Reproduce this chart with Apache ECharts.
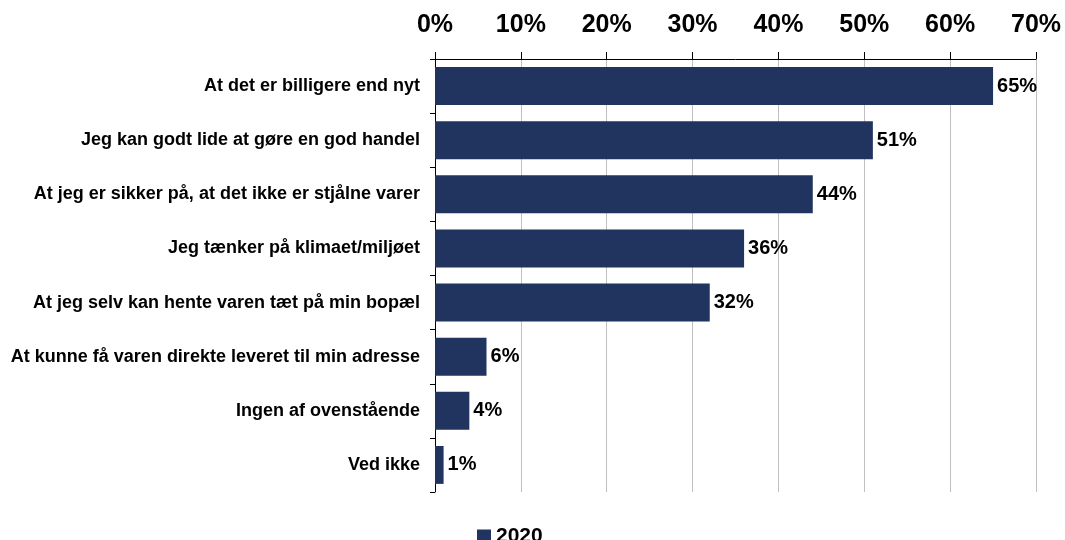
<!DOCTYPE html>
<html>
<head>
<meta charset="utf-8">
<script src="https://cdn.jsdelivr.net/npm/echarts@6/dist/echarts.min.js"></script>
<style>html,body{margin:0;padding:0;background:#fff;}#c{width:1065px;height:540px;}</style>
</head>
<body>
<div id="c"></div>
<script>
var categories = [
  "At det er billigere end nyt",
  "Jeg kan godt lide at gøre en god handel",
  "At jeg er sikker på, at det ikke er stjålne varer",
  "Jeg tænker på klimaet/miljøet",
  "At jeg selv kan hente varen tæt på min bopæl",
  "At kunne få varen direkte leveret til min adresse",
  "Ingen af ovenstående",
  "Ved ikke"
];
var values2020 = [65, 51, 44, 36, 32, 6, 4, 1];
var seriesName = "2020";
var axisMax = 70;
var axisStep = 10;

var font = "Liberation Sans, Arial, sans-serif";
var chart = echarts.init(document.getElementById('c'), null, {renderer: 'canvas'});
chart.setOption({
  animation: false,
  backgroundColor: '#fff',
  grid: {left: 435, right: 29, top: 59, bottom: 48},
  legend: {
    data: [seriesName],
    left: 472, top: 521,
    itemWidth: 14, itemHeight: 14, itemGap: 5,
    icon: 'rect',
    textStyle: {fontFamily: font, fontWeight: 'bold', fontSize: 21, color: '#000', padding: [0,0,0,0]}
  },
  xAxis: {
    type: 'value', position: 'top', min: 0, max: axisMax, interval: axisStep,
    axisLine: {show: true, lineStyle: {color: '#000', width: 1}},
    axisTick: {show: true, length: 7, lineStyle: {color: '#000'}},
    axisLabel: {formatter: '{value}%', fontFamily: font, fontWeight: 'bold', fontSize: 25, color: '#000', margin: 21},
    splitLine: {show: true, lineStyle: {color: '#c0c0c0', width: 1}}
  },
  yAxis: {
    type: 'category', data: categories, inverse: true,
    axisLine: {show: true, lineStyle: {color: '#000', width: 1}},
    axisTick: {show: true, length: 5, alignWithLabel: false, lineStyle: {color: '#000'}},
    axisLabel: {fontFamily: font, fontWeight: 'bold', fontSize: 18, color: '#000', margin: 15}
  },
  series: [{
    name: seriesName, type: 'bar', data: values2020,
    barCategoryGap: '30%',
    itemStyle: {color: '#21335f'},
    label: {show: true, position: 'right', distance: 4, formatter: '{c}%', fontFamily: font, fontWeight: 'bold', fontSize: 20, color: '#000'}
  }]
});
</script>
</body>
</html>
